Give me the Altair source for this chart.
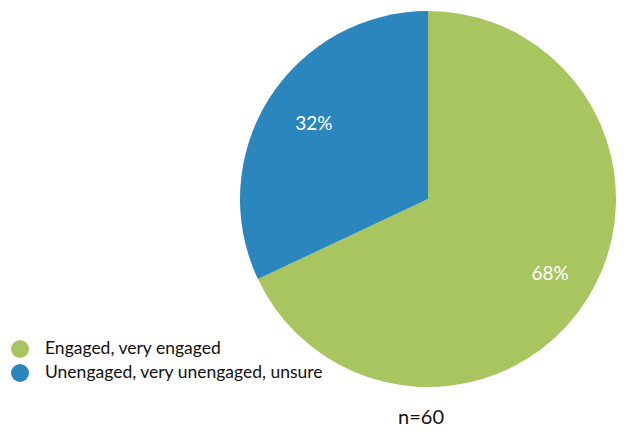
import altair as alt
import pandas as pd

categories = ["Engaged, very engaged", "Unengaged, very unengaged, unsure"]
shares = [68, 32]
labels = ["68%", "32%"]
colors = ["#A8C560", "#2C86BE"]
note = "n=60"

df = pd.DataFrame({"category": categories, "share": shares, "label": labels, "order": [0, 1]})

base = alt.Chart(df).encode(
    theta=alt.Theta("share:Q", stack=True),
    order=alt.Order("order:O"),
)

pie = base.mark_arc(radius=188, stroke=None).encode(
    x=alt.value(420), y=alt.value(191),
    color=alt.Color(
        "category:N",
        scale=alt.Scale(domain=categories, range=colors),
        sort=categories,
        legend=alt.Legend(
            title=None, orient="none", legendX=3, legendY=332,
            symbolType="circle", symbolSize=324, symbolStrokeWidth=0,
            labelFontSize=17.5, labelFont="Lato", labelColor="#111111",
            labelLimit=400, rowPadding=6, labelOffset=16, padding=0,
        ),
    ),
)

text = base.mark_text(radius=140, font="Lato", fontSize=19, color="white", dx=4).encode(
    x=alt.value(420), y=alt.value(191), text="label:N"
)

note_layer = alt.Chart(pd.DataFrame({"t": [note]})).mark_text(
    font="Lato", fontSize=20, color="#111111"
).encode(x=alt.value(413), y=alt.value(410), text="t:N")

chart = alt.layer(pie, text, note_layer).properties(
    width=610, height=426, padding=0, autosize="none"
).configure_view(stroke=None)

chart.save("out.html", embed_options={"renderer": "svg", "actions": False})
